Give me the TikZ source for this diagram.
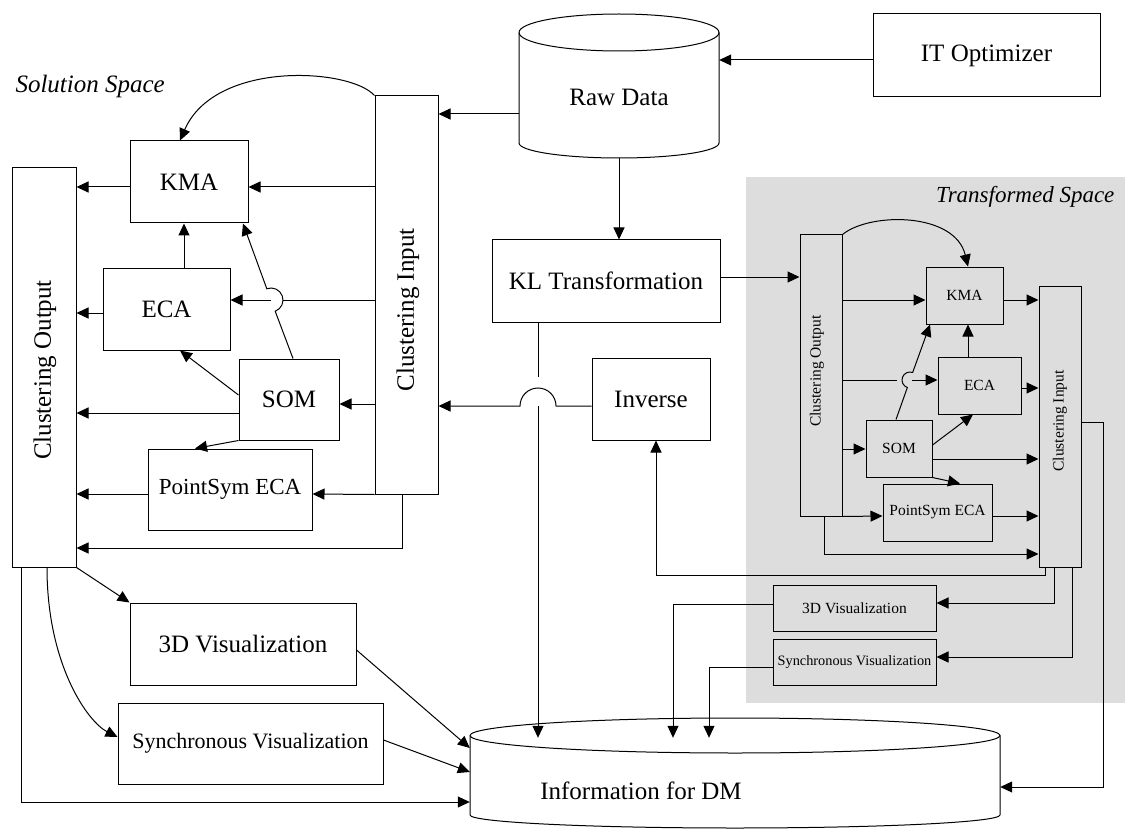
\documentclass[tikz,border=0pt]{standalone}
\usepackage{fontspec}
\setmainfont{Liberation Serif}
\usetikzlibrary{arrows.meta,calc}
\definecolor{panel}{gray}{0.865}

\begin{document}
\begin{tikzpicture}[x=1pt,y=-1pt,
  box/.style={draw, fill=white, line width=1pt, inner sep=0pt},
  tbox/.style={draw, line width=1pt, inner sep=0pt},
  big/.style={font=\fontsize{25}{30}\selectfont},
  mid/.style={font=\fontsize{23}{27}\selectfont},
  small/.style={font=\fontsize{15.5}{18}\selectfont},
  conn/.style={line width=1pt, -{Triangle[length=12pt,width=11pt]}},
  plain/.style={line width=1pt},
  title/.style={font=\fontsize{25}{30}\selectfont\itshape}]

\useasboundingbox (0,0) rectangle (1127,829);

% transformed space panel
\fill[panel] (746,177) rectangle (1125,703);
\node[title, font=\fontsize{23}{27}\selectfont\itshape, anchor=base east] (tspace) at (1118,203) {Transformed Space};
\node[title, anchor=base west] (sspace) at (12,93) {Solution Space};

% Raw Data cylinder
\draw[line width=1pt, fill=white] (519,32.5) -- (519,143)
  arc[start angle=180,end angle=360,x radius=100pt,y radius=15pt]
  -- (719,32.5) arc[start angle=0,end angle=180,x radius=100pt,y radius=18.5pt] -- cycle;
\draw[line width=1pt] (519,32.5) arc[start angle=180,end angle=360,x radius=100pt,y radius=18.5pt];
\node[big, inner sep=0pt, minimum width=200pt, minimum height=92pt] (rd) at (619,97) {Raw Data};
\coordinate (rdbot) at (619,158);

% Information for DM cylinder
\draw[line width=1pt, fill=white] (470,735.5) -- (470,815)
  arc[start angle=180,end angle=360,x radius=265pt,y radius=13pt]
  -- (1000,735.5) arc[start angle=0,end angle=180,x radius=265pt,y radius=17.5pt] -- cycle;
\draw[line width=1pt] (470,735.5) arc[start angle=180,end angle=360,x radius=265pt,y radius=17.5pt];
\node[inner sep=0pt, minimum width=530pt, minimum height=77pt] (info) at (735,776.5) {};
\node[big] (infotext) at (641,791) {Information for DM};

% top row
\node[box, big, minimum width=227pt, minimum height=83pt] (it) at (986.5,55.5) {IT Optimizer};
\node[box, big, minimum width=228pt, minimum height=82pt] (kl) at (606,281) {KL Transformation};
\node[box, big, minimum width=118pt, minimum height=82pt] (inv) at (651,399) {Inverse};

% solution space
\node[box, minimum width=64pt, minimum height=399pt] (co) at (44,367.5) {};
\node[big, rotate=90] (cotext) at (45,370) {Clustering Output};
\node[box, minimum width=63pt, minimum height=398pt] (ci) at (406.5,295) {};
\node[big, rotate=90] (citext) at (408,310) {Clustering Input};
\node[box, big, minimum width=118pt, minimum height=82pt] (kma) at (189,182) {KMA};
\node[box, big, minimum width=127pt, minimum height=82pt] (eca) at (166.5,309) {ECA};
\node[box, big, minimum width=100pt, minimum height=81pt] (som) at (289,399.5) {SOM};
\node[box, mid, minimum width=164pt, minimum height=81pt] (pse) at (230,489.5) {PointSym ECA};
\node[box, big, minimum width=226pt, minimum height=82pt] (vis3d) at (243,644) {3D Visualization};
\node[box, font=\fontsize{22}{26}\selectfont, minimum width=265pt, minimum height=81pt] (sync) at (250.5,743.5) {Synchronous Visualization};

% transformed space boxes
\node[tbox, minimum width=42pt, minimum height=281pt] (tco) at (821,375.5) {};
\node[small, rotate=90] (tcotext) at (817,371) {Clustering Output};
\node[tbox, minimum width=42pt, minimum height=281pt] (tci) at (1060,426.5) {};
\node[small, rotate=90] (tcitext) at (1060,421) {Clustering Input};
\node[tbox, small, minimum width=77pt, minimum height=57pt] (tkma) at (964.5,295.5) {KMA};
\node[tbox, small, minimum width=83pt, minimum height=57pt] (teca) at (979.5,385.5) {ECA};
\node[tbox, small, minimum width=66pt, minimum height=57pt] (tsom) at (899,448.5) {SOM};
\node[tbox, small, minimum width=109pt, minimum height=57pt] (tpse) at (937.5,512.5) {PointSym ECA};
\node[tbox, small, minimum width=163pt, minimum height=46pt] (tvis) at (854.5,608) {3D Visualization};
\node[tbox, font=\fontsize{14.3}{17}\selectfont, minimum width=163pt, minimum height=46pt] (tsync) at (854.5,662) {Synchronous Visualization};

% line-jump centres
\coordinate (hopA) at (271,300);
\coordinate (hopB) at (538,406);
\coordinate (hopC) at (910,380);

% data flow at the top
\draw[conn] (it.west |- 0,60) -- (rd.east |- 0,60);
\draw[conn] (rd.west |- 0,114) -- (ci.east |- 0,114);
\draw[conn] (rdbot) -- (kl.north -| rdbot);
\draw[conn] (kl.east |- 0,277) -- (tco.west |- 0,277);
\draw[plain] (kl.south -| hopB) -- (hopB |- 0,377);
\draw[conn] (hopB) -- (info.north -| hopB);
\draw[conn] (inv.west |- hopB) -- ($(hopB)+(18,0)$)
  arc[start angle=0,end angle=180,radius=18pt] -- (ci.east |- hopB);

% solution space connectors
\draw[conn] (ci.north west) .. controls (350,68) and (215,60) .. (kma.north -| 180,0);
\draw[conn] (ci.west |- 0,187) -- (kma.east |- 0,187);
\draw[conn] (kma.west |- 0,187) -- (co.east |- 0,187);
\draw[plain] (ci.west |- hopA) -- ($(hopA)+(12,0)$);
\draw[conn] (hopA) -- (eca.east |- hopA);
\draw[conn] (som.north -| 293,0) -- ($(hopA)+(-69.5:12pt)$)
  arc[start angle=-69.5,end angle=110.5,radius=12pt] -- (kma.south -| 243,0);
\draw[conn] (eca.north -| 184,0) -- (kma.south -| 184,0);
\draw[conn] (eca.west |- 0,313) -- (co.east |- 0,313);
\draw[conn] (ci.west |- 0,404) -- (som.east |- 0,404);
\draw[conn] (som.west |- 0,413) -- (co.east |- 0,413);
\draw[conn] (som.west |- 0,395) -- (eca.south -| 180,0);
\draw[conn] (som.south west) -- (pse.north -| 195,0);
\draw[conn] (ci.south west) -- (pse.east |- 0,494);
\draw[conn] (pse.west |- 0,494) -- (co.east |- 0,494);
\draw[conn] (ci.south -| 402,0) |- (co.east |- 0,548);

% solution space outputs
\draw[conn] (co.south east) -- (vis3d.north west);
\draw[conn] (co.south -| 47,0) .. controls (47,665) and (88,722) .. (sync.west |- 0,737);
\draw[conn] (co.south -| 21,0) |- (info.west |- 0,802);
\draw[conn] (vis3d.east |- 0,650) -- (info.west |- 0,748);
\draw[conn] (sync.east |- 0,740) -- (info.west |- 0,772);

% transformed space connectors
\draw[conn] (tco.north east) .. controls (870,212) and (955,212) .. (tkma.north -| 968,0);
\draw[conn] (tco.east |- 0,300) -- (tkma.west |- 0,300);
\draw[conn] (tkma.east |- 0,300) -- (tci.west |- 0,300);
\draw[plain] (tco.east |- hopC) -- ($(hopC)+(-13,0)$);
\draw[conn] ($(hopC)+(2,0)$) -- (teca.west |- hopC);
\draw[conn] (tsom.north -| 896,0) -- ($(hopC)+(250.5:8pt)$)
  arc[start angle=250.5,end angle=70.5,radius=8pt] -- (tkma.south -| 930,0);
\draw[conn] (teca.north -| 968,0) -- (tkma.south -| 968,0);
\draw[conn] (teca.east |- 0,388) -- (tci.west |- 0,388);
\draw[conn] (tsom.east |- 0,445) -- (teca.south -| 973,0);
\draw[conn] (tco.east |- 0,449) -- (tsom.west |- 0,449);
\draw[conn] (tsom.east |- 0,459) -- (tci.west |- 0,459);
\draw[conn] (tsom.south east) -- (tpse.north -| 960,0);
\draw[conn] (tco.south east) -- (tpse.west |- 0,516);
\draw[conn] (tpse.east |- 0,516) -- (tci.west |- 0,516);
\draw[conn] (tco.south -| 824,0) |- (tci.west |- 0,554);

% transformed space outputs
\draw[conn] (tci.south -| 1045,0) -- ++(0,8) -| (inv.south -| 656,0);
\draw[conn] (tci.south -| 1054,0) |- (tvis.east |- 0,603);
\draw[conn] (tci.south -| 1072,0) |- (tsync.east |- 0,657);
\draw[conn] (tci.east |- 0,422) -- ++(22,0) |- (info.east |- 0,787);
\draw[conn] (tvis.west |- 0,604) -| (info.north -| 673,0);
\draw[conn] (tsync.west |- 0,667) -| (info.north -| 709,0);

\end{tikzpicture}
\end{document}
